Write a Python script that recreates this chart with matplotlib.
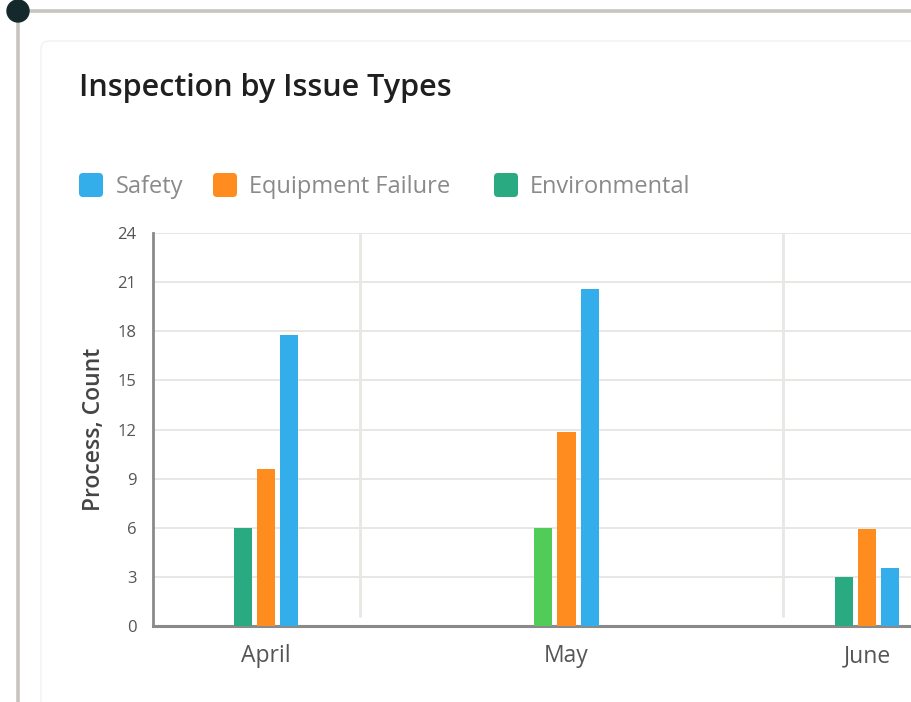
import matplotlib
matplotlib.use("Agg")
import matplotlib.pyplot as plt
from matplotlib.patches import FancyBboxPatch, Circle
from matplotlib.lines import Line2D
import numpy as np

months = ["April", "May", "June"]
environmental = [6, 6, 3]
equipment = [9.6, 11.85, 5.9]
safety = [17.75, 20.6, 3.55]
yticks = [0, 3, 6, 9, 12, 15, 18, 21, 24]
legend_labels = ["Safety", "Equipment Failure", "Environmental"]

C_SAFE = "#33aeea"
C_EQ = "#ff8c1f"
C_ENV = "#2aaa80"
C_ENV_MAY = "#52cc58"

FONT = "Open Sans"
plt.rcParams['font.family'] = [FONT, 'DejaVu Sans']

W, H = 912, 702
fig = plt.figure(figsize=(W / 100, H / 100), dpi=100)
fig.patch.set_facecolor("white")

# Decorative frame
frame = fig.add_axes([0, 0, 1, 1], zorder=0)
frame.set_xlim(0, W)
frame.set_ylim(H, 0)
frame.axis("off")
frame.add_line(Line2D([18, W], [11, 11], color="#c8c5c0", lw=2.6))
frame.add_line(Line2D([18, 18], [11, H], color="#c8c5c0", lw=2.6))
frame.add_patch(FancyBboxPatch((41, 41), W, H, boxstyle="round,pad=0,rounding_size=8",
                               fc="white", ec="#f2f1ef", lw=1.0))
frame.add_patch(Circle((18, 11), 11, color="#14292b", zorder=5))

fig.text(79 / W, 1 - 88 / H, "Inspection by Issue Types", fontsize=22, fontweight="semibold",
         color="#1f1f1f", va="center", ha="left")

# legend
leg_items = [(79, 116, C_SAFE, legend_labels[0]), (213, 249, C_EQ, legend_labels[1]),
             (494, 530, C_ENV, legend_labels[2])]
for sx, tx, col, lab in leg_items:
    frame.add_patch(FancyBboxPatch((sx + 3, 173 + 3), 18, 18, boxstyle="round,pad=3,rounding_size=4",
                                   fc=col, ec="none"))
    fig.text(tx / W, 1 - 187 / H, lab, fontsize=17, color="#8a8a8a", va="center", ha="left")

ax_left, ax_bottom, ax_top = 153, 626, 233
ax = fig.add_axes([ax_left / W, (H - ax_bottom) / H, (W - ax_left) / W, (ax_bottom - ax_top) / H], zorder=2)
ax.patch.set_alpha(0)

x = np.arange(len(months))
bw = 0.06
off = 0.0775
env_colors = [C_ENV, C_ENV_MAY, C_ENV]
ax.bar(x - off, environmental, bw, color=env_colors, zorder=3)
ax.bar(x, equipment, bw, color=C_EQ, zorder=3)
ax.bar(x + off, safety, bw, color=C_SAFE, zorder=3)

ax.set_xlim(-0.376, (W - 266) / 300.5)
ax.set_ylim(0, 24)
ax.set_yticks(yticks)
ax.set_yticklabels([str(v) for v in yticks])
ax.set_xticks(x)
ax.set_xticklabels(months)
for yv in yticks[1:]:
    ax.axhline(yv, color="#e8e7e3", lw=1.4, zorder=1)
for xv in [0.313, 1.72]:
    ax.vlines(xv, 0.55, 24, color="#e8e7e3", lw=2, zorder=1)

for s in ["top", "right"]:
    ax.spines[s].set_visible(False)
ax.spines["left"].set_color("#8a8a8a")
ax.spines["left"].set_linewidth(2)
ax.spines["bottom"].set_color("#8a8a8a")
ax.spines["bottom"].set_linewidth(2.2)
ax.tick_params(axis="both", length=0)
ax.tick_params(axis="y", labelsize=12, labelcolor="#555555", pad=12)
ax.tick_params(axis="x", labelsize=16.5, labelcolor="#555555", pad=13)
ax.set_ylabel("Process, Count", fontsize=16.5, fontweight="semibold", color="#444444", labelpad=8)

fig.savefig("out.png", dpi=100)
